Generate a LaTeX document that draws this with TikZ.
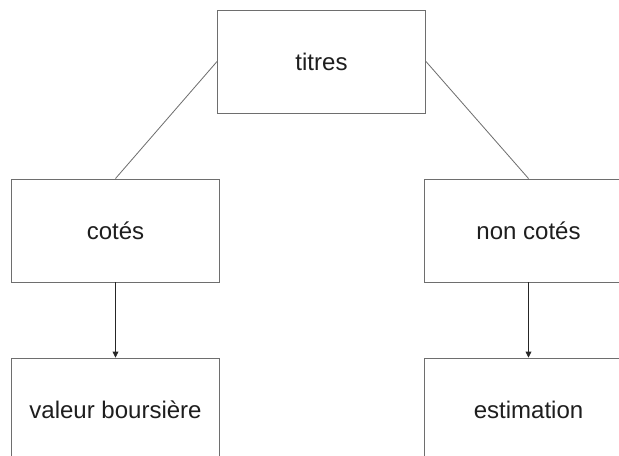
\documentclass[tikz,border=0pt]{standalone}
\usepackage{fontspec}
\setmainfont{Liberation Sans}
\usetikzlibrary{positioning,calc}
\usetikzlibrary{arrows.meta}
\definecolor{BoxGray}{RGB}{110,110,110}
\definecolor{InkGray}{RGB}{30,30,30}
\tikzset{
  box/.style={rectangle,draw=BoxGray,line width=0.8pt,fill=white,text=InkGray,
    minimum width=6.24cm,minimum height=3.09cm,inner sep=0pt,
    font=\fontsize{20.5}{24}\selectfont},
  link/.style={draw=BoxGray,line width=0.7pt},
  flow/.style={draw=black!85,line width=0.6pt,-{Triangle[length=5pt,width=5pt]}},
}

\begin{document}
\begin{tikzpicture}[x=0.03cm,y=-0.03cm]
\useasboundingbox (0,0) rectangle (619,456);
\clip (0,0) rectangle (619,456);
\node[box] (titres) at (321.5,61.5) {titres};
\node[box] (cotes) at (115.5,230.5) {cotés};
\node[box] (noncotes) at (528.5,230.5) {non cotés};
\node[box] (valeur) at (115.5,409.5) {valeur boursière};
\node[box] (estim) at (528.5,409.5) {estimation};
\draw[link] (titres.west)--(cotes.north);
\draw[link] (titres.east)--(noncotes.north);
\draw[flow] (cotes.south)--(valeur.north);
\draw[flow] (noncotes.south)--(estim.north);
\end{tikzpicture}
\end{document}
